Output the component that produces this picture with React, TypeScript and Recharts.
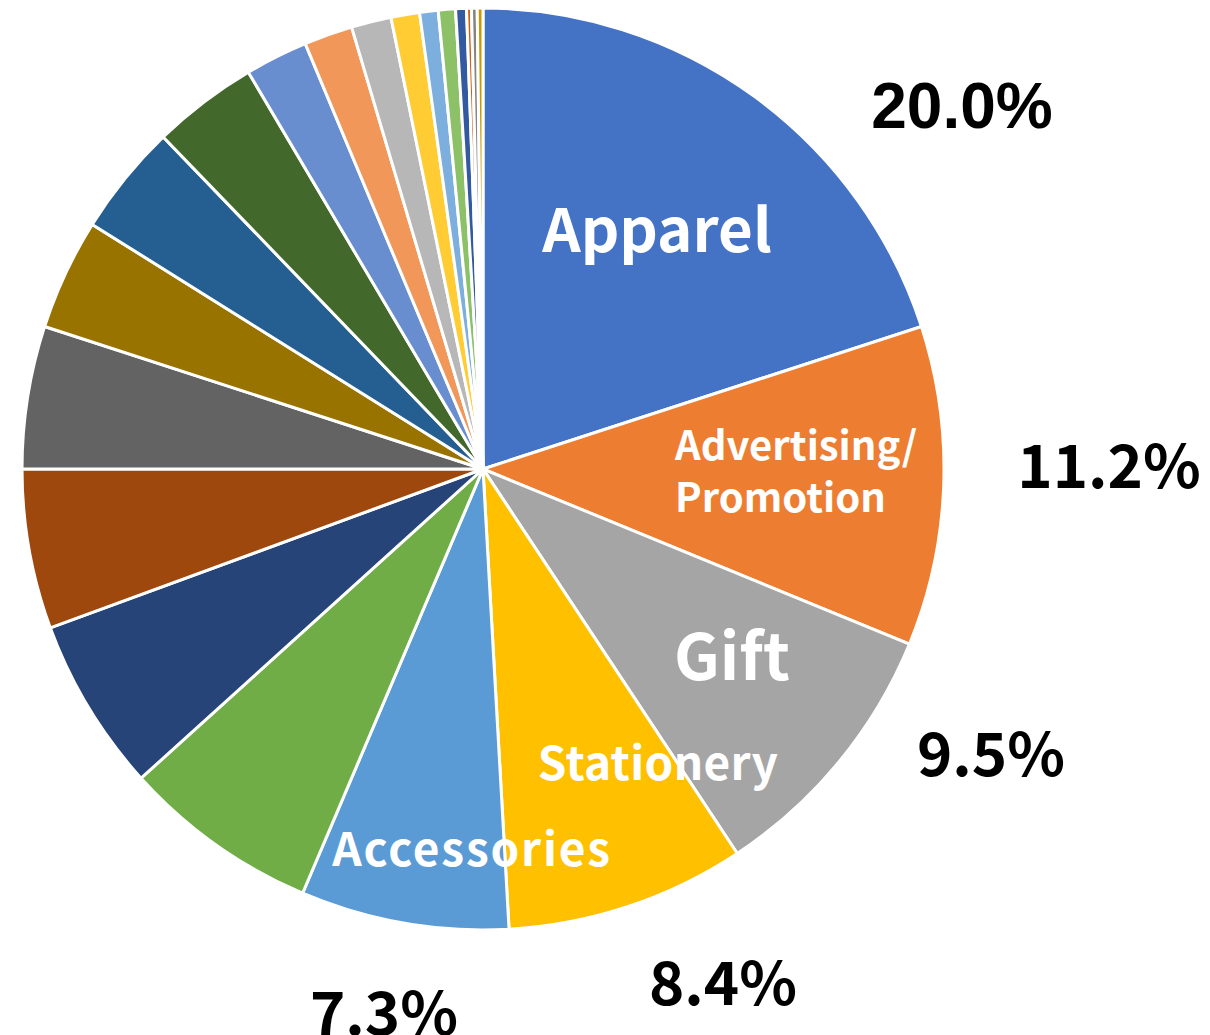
import { PieChart, Pie, Cell } from "recharts";

// Category names (only the first five are labelled in the chart)
const categories = [
    "Apparel",
    "Advertising/Promotion",
    "Gift",
    "Stationery",
    "Accessories",
    "Category 6",
    "Category 7",
    "Category 8",
    "Category 9",
    "Category 10",
    "Category 11",
    "Category 12",
    "Category 13",
    "Category 14",
    "Category 15",
    "Category 16",
    "Category 17",
    "Category 18",
    "Category 19",
    "Category 20",
    "Category 21",
    "Category 22",
];

// Share (%)
const shares = [
    20.0, 11.2, 9.5, 8.4, 7.3, 6.9, 6.1, 5.6, 5.0, 3.9, 3.9, 3.7, 2.2, 1.7, 1.4,
    1.0, 0.65, 0.6, 0.38, 0.17, 0.2, 0.2,
];

// Office default palette
const colors = [
    "#4472C4", "#ED7D31", "#A5A5A5", "#FFC000", "#5B9BD5", "#70AD47",
    "#264478", "#9E480E", "#636363", "#997300", "#255E91", "#43682B",
    "#698ED0", "#F1975A", "#B7B7B7", "#FFCD33", "#7CAFDD", "#8CC168",
    "#335AA1", "#D26012", "#848484", "#CC9A00",
];

// Percentage labels shown outside
const pctLabels = ["20.0%", "11.2%", "9.5%", "8.4%", "7.3%"];

const data = categories.map((name, i) => ({ name, value: shares[i] }));

const CX = 483;
const CY = 469;
const jp = "'Noto Sans CJK JP', 'Noto Sans', sans-serif";

// label placement, offsets from pie centre
const inside: Record<number, { dx: number; dy: number; size: number; lines: string[]; anchor: string; ls?: number }> = {
    0: { dx: 174, dy: -217, size: 60, lines: ["Apparel"], anchor: "middle" },
    1: { dx: 192, dy: -9, size: 40, lines: ["Advertising/", "Promotion"], anchor: "start" },
    2: { dx: 249, dy: 211, size: 64, lines: ["Gift"], anchor: "middle" },
    3: { dx: 175, dy: 311, size: 46, lines: ["Stationery"], anchor: "middle", ls: 0.3 },
    4: { dx: -11, dy: 397, size: 46, lines: ["Accessories"], anchor: "middle", ls: 1.8 },
};
const outside: Record<number, { dx: number; dy: number; font: string; size: number }> = {
    0: { dx: 479, dy: -341, font: "'Liberation Sans', Arial, sans-serif", size: 64 },
    1: { dx: 626, dy: 19, font: jp, size: 60 },
    2: { dx: 508, dy: 307, font: jp, size: 60 },
    3: { dx: 240, dy: 536, font: jp, size: 60 },
    4: { dx: -99, dy: 566, font: jp, size: 60 },
};

const renderLabel = (props: any) => {
    const { index, cx, cy } = props;
    const ins = inside[index];
    const out = outside[index];
    if (!ins) return null;
    return (
        <g key={`lbl-${index}`}>
            {ins.lines.map((line, j) => (
                <text
                    key={j}
                    x={cx + ins.dx}
                    y={cy + ins.dy + j * 52}
                    fill="#fff"
                    textAnchor={ins.anchor as any}
                    fontFamily={jp}
                    fontWeight={700}
                    fontSize={ins.size}
                    letterSpacing={ins.ls || 0}
                >
                    {line}
                </text>
            ))}
            <text
                x={cx + out.dx}
                y={cy + out.dy}
                fill="#000"
                textAnchor="middle"
                fontFamily={out.font}
                fontWeight={700}
                fontSize={out.size}
            >
                {pctLabels[index]}
            </text>
        </g>
    );
};

export default function App() {
    return (
        <div style={{ position: "absolute", left: 0, top: 0, width: 1210, height: 1035, background: "#fff" }}>
            <PieChart width={1210} height={1035} margin={{ top: 0, right: 0, bottom: 0, left: 0 }}>
                <Pie
                    data={data}
                    dataKey="value"
                    nameKey="name"
                    cx={CX}
                    cy={CY}
                    outerRadius={461}
                    startAngle={90}
                    endAngle={-270}
                    stroke="#fff"
                    strokeWidth={3}
                    label={renderLabel}
                    labelLine={false}
                    isAnimationActive={false}
                >
                    {data.map((d, i) => (
                        <Cell key={d.name} fill={colors[i]} />
                    ))}
                </Pie>
            </PieChart>
        </div>
    );
}
